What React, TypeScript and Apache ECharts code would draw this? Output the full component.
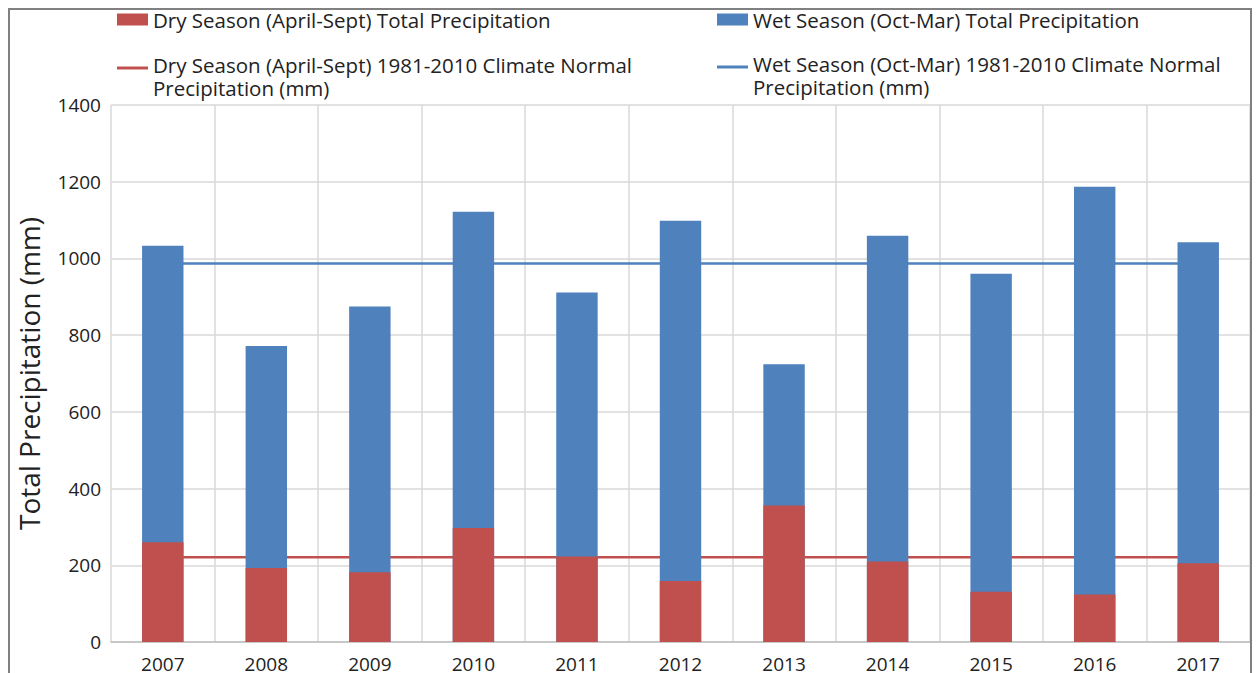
import React, { useEffect, useRef } from "react";
import * as echarts from "echarts";

const years = ["2007", "2008", "2009", "2010", "2011", "2012", "2013", "2014", "2015", "2016", "2017"];
const wetTotal = [1033, 772, 875, 1122, 911, 1098, 724, 1059, 960, 1187, 1042];
const dryTotal = [260, 193, 182, 297, 223, 159, 356, 210, 131, 124, 205];
const wetNormal = [987, 987, 987, 987, 987, 987, 987, 987, 987, 987, 987];
const dryNormal = [221, 221, 221, 221, 221, 221, 221, 221, 221, 221, 221];
const yTicks = [0, 200, 400, 600, 800, 1000, 1200, 1400];

const DRY_BAR = "Dry Season (April-Sept) Total Precipitation";
const WET_BAR = "Wet Season (Oct-Mar) Total Precipitation";
const DRY_LINE = "Dry Season (April-Sept) 1981-2010 Climate Normal\nPrecipitation (mm)";
const WET_LINE = "Wet Season (Oct-Mar) 1981-2010 Climate Normal\nPrecipitation (mm)";

const RED = "#C0504D";
const BLUE = "#4F81BD";
const FONT = "Open Sans";

export default function App() {
  const ref = useRef<HTMLDivElement>(null);
  useEffect(() => {
    if (!ref.current) return;
    const chart = echarts.init(ref.current, undefined, { renderer: "svg" });
    const barLegendText = { fontFamily: FONT, fontSize: 20.5, color: "#222" };
    const lineLegendText = {
      fontFamily: FONT,
      fontSize: 20.5,
      color: "#222",
      rich: {
        s: { fontSize: 4, lineHeight: 16 },
        t: { fontFamily: FONT, fontSize: 20.5, lineHeight: 23, color: "#222" },
      },
    };
    const lineFormatter = (name: string) =>
      "{s| }\n" + name.split("\n").map((l) => `{t|${l}}`).join("\n");
    chart.setOption({
      animation: false,
      backgroundColor: "#fff",
      textStyle: { fontFamily: FONT },
      graphic: [
        {
          type: "rect",
          shape: { x: 9, y: 9, width: 1242, height: 700 },
          style: { fill: "none", stroke: "#808080", lineWidth: 2 },
          silent: true,
          z: 100,
        },
      ],
      legend: [
        { data: [DRY_BAR], left: 117, top: 9, padding: 0, icon: "rect", itemWidth: 31, itemHeight: 12, textStyle: barLegendText },
        { data: [WET_BAR], left: 717, top: 9, padding: 0, icon: "rect", itemWidth: 31, itemHeight: 12, textStyle: barLegendText },
        { data: [DRY_LINE], left: 117, top: 43, padding: 0, icon: "rect", itemWidth: 31, itemHeight: 3, textStyle: lineLegendText, formatter: lineFormatter },
        { data: [WET_LINE], left: 717, top: 42, padding: 0, icon: "rect", itemWidth: 31, itemHeight: 3, textStyle: lineLegendText, formatter: lineFormatter },
      ],
      grid: { left: 111, right: 9, top: 105, bottom: 31, containLabel: false },
      xAxis: {
        type: "category",
        data: years,
        axisLine: { lineStyle: { color: "#BFBFBF", width: 1.5 } },
        axisTick: { show: false },
        axisLabel: { fontFamily: FONT, fontSize: 19, color: "#222", margin: 12 },
        splitLine: { show: true, lineStyle: { color: "#D9D9D9", width: 1.5 } },
      },
      yAxis: {
        type: "value",
        min: yTicks[0],
        max: yTicks[yTicks.length - 1],
        interval: yTicks[1] - yTicks[0],
        name: "Total Precipitation (mm)",
        nameLocation: "middle",
        nameGap: 68,
        nameTextStyle: { fontFamily: FONT, fontSize: 28, color: "#222" },
        axisLine: { show: false },
        axisTick: { show: false },
        axisLabel: { fontFamily: FONT, fontSize: 19, color: "#222", margin: 10, formatter: (v: number) => String(v) },
        splitLine: { lineStyle: { color: "#D9D9D9", width: 1.5 } },
      },
      series: [
        {
          name: WET_LINE,
          type: "line",
          data: wetNormal,
          symbol: "none",
          lineStyle: { color: BLUE, width: 2.5 },
          itemStyle: { color: BLUE },
          z: 1,
        },
        {
          name: DRY_LINE,
          type: "line",
          data: dryNormal,
          symbol: "none",
          lineStyle: { color: RED, width: 2.5 },
          itemStyle: { color: RED },
          z: 1,
        },
        {
          name: WET_BAR,
          type: "bar",
          data: wetTotal,
          barWidth: "40%",
          barGap: "-100%",
          itemStyle: { color: BLUE },
          z: 2,
        },
        {
          name: DRY_BAR,
          type: "bar",
          data: dryTotal,
          barWidth: "40%",
          barGap: "-100%",
          itemStyle: { color: RED },
          z: 3,
        },
      ],
    });
    return () => chart.dispose();
  }, []);
  return (
    <div
      ref={ref}
      style={{ position: "absolute", left: 0, top: 0, width: 1259, height: 673 }}
    />
  );
}
